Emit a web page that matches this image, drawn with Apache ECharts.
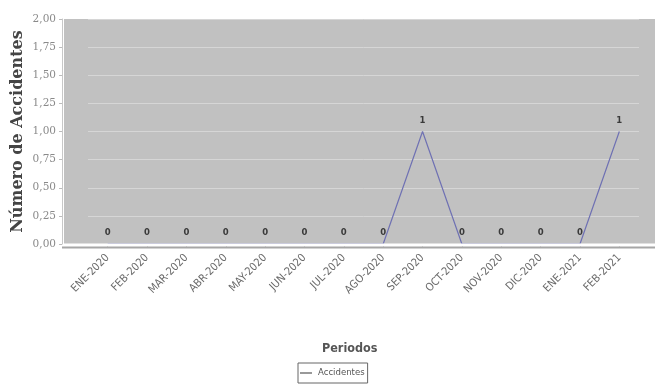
<!DOCTYPE html>
<html>
<head>
<meta charset="utf-8">
<script src="https://cdn.jsdelivr.net/npm/echarts@6/dist/echarts.min.js"></script>
<style>
  html, body { margin: 0; padding: 0; background: #ffffff; }
  #chart { width: 655px; height: 392px; }
</style>
</head>
<body>
<div id="chart"></div>
<script>
// Monthly accident counts
const periods = ['ENE-2020', 'FEB-2020', 'MAR-2020', 'ABR-2020', 'MAY-2020', 'JUN-2020', 'JUL-2020',
                 'AGO-2020', 'SEP-2020', 'OCT-2020', 'NOV-2020', 'DIC-2020', 'ENE-2021', 'FEB-2021'];
const accidents = [0, 0, 0, 0, 0, 0, 0, 0, 1, 0, 0, 0, 0, 1];
const yTicks = [0, 0.25, 0.5, 0.75, 1, 1.25, 1.5, 1.75, 2];

const chart = echarts.init(document.getElementById('chart'));
const fmtComma = v => v.toFixed(2).replace('.', ',');
const narrow = '"Liberation Sans Narrow", "DejaVu Sans Condensed", sans-serif';

chart.setOption({
  animation: false,
  backgroundColor: '#ffffff',
  grid: { left: 88, right: 16, top: 19, bottom: 148, outerBoundsMode: 'none', containLabel: false },
  graphic: [
    // plot background panel
    { type: 'rect', z: -10, silent: true,
      shape: { x: 64, y: 19, width: 591, height: 225 },
      style: { fill: '#c1c1c1' } },
    // light gap between the panel and the base line
    { type: 'rect', z: 100, silent: true,
      shape: { x: 64, y: 243.5, width: 591, height: 3 },
      style: { fill: '#ffffff' } },
    // base line under the panel
    { type: 'rect', z: 100, silent: true,
      shape: { x: 62, y: 246.5, width: 593, height: 2 },
      style: { fill: '#a6a6a6' } },
    { type: 'text', left: 322, top: 342,
      style: { text: 'Periodos', font: 'bold 12.5px ' + narrow, fill: '#555555' } }
  ],
  legend: {
    data: ['Accidentes'],
    left: 298, top: 363,
    orient: 'horizontal',
    borderColor: '#666666', borderWidth: 1, borderRadius: 0,
    padding: [5, 3, 5, 2],
    itemWidth: 12, itemHeight: 8, itemGap: 2,
    icon: 'path://M0,4 L12,4 L12,5 L0,5 Z',
    itemStyle: { color: '#333333' },
    textStyle: { fontSize: 9.5, color: '#555555', fontFamily: narrow, padding: [0, 0, 0, 1] }
  },
  xAxis: {
    type: 'category',
    data: periods,
    boundaryGap: true,
    offset: 4,
    axisLine: { show: false },
    axisTick: { show: true, alignWithLabel: true, length: 3, lineStyle: { color: '#bbbbbb' } },
    axisLabel: {
      rotate: 45, margin: 8, fontSize: 11, color: '#6a6a6a',
      fontFamily: narrow
    },
    splitLine: { show: false }
  },
  yAxis: {
    type: 'value',
    min: 0, max: 2, interval: 0.25,
    offset: 26,
    name: 'Número de Accidentes',
    nameLocation: 'middle',
    nameGap: 36,
    nameMoveOverlap: false,
    nameRotate: 90,
    nameTextStyle: { fontSize: 16, fontWeight: 'bold', color: '#444444', fontFamily: '"DejaVu Serif", serif' },
    axisLine: { show: true, lineStyle: { color: '#c8c8c8', width: 1 } },
    axisTick: { show: true, length: 3, lineStyle: { color: '#bbbbbb' } },
    axisLabel: {
      fontSize: 10.5, color: '#8a8a8a', margin: 6,
      fontFamily: '"DejaVu Serif", serif',
      formatter: v => yTicks.includes(v) ? fmtComma(v) : ''
    },
    splitLine: { show: true, lineStyle: { color: '#d6d6d6', width: 1 } }
  },
  series: [{
    name: 'Accidentes',
    type: 'line',
    data: accidents,
    showSymbol: true,
    symbol: 'circle',
    symbolSize: 1,
    lineStyle: { color: '#6f71b3', width: 1.2 },
    itemStyle: { color: 'rgba(0,0,0,0)' },
    label: {
      show: true, position: 'top', distance: 6,
      fontSize: 8.5, fontWeight: 'bold', color: '#3a3a3a',
      fontFamily: '"DejaVu Sans", sans-serif'
    }
  }]
});
</script>
</body>
</html>
